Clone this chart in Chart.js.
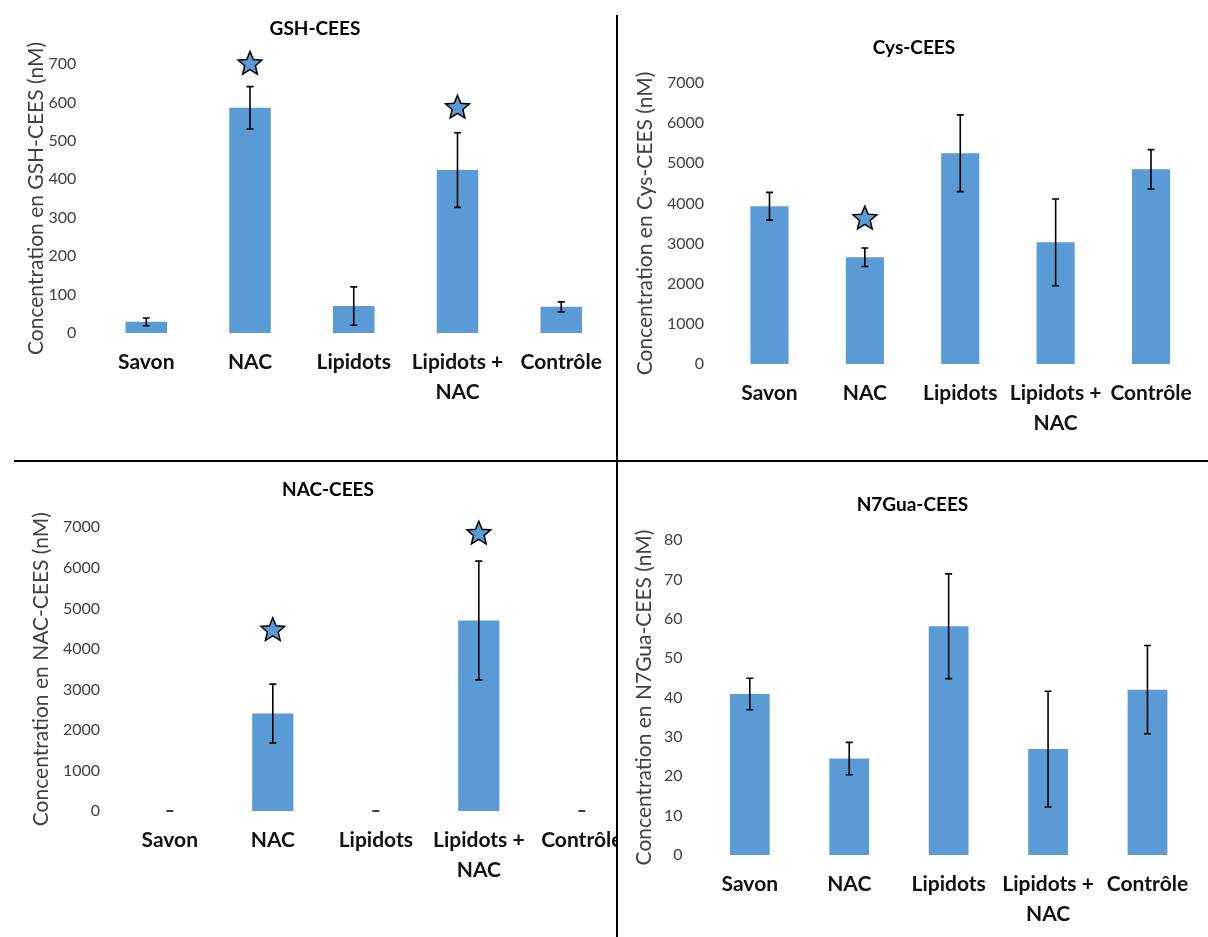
<!DOCTYPE html>
<html lang="fr">
<head>
<meta charset="UTF-8">
<title>Adduits CEES</title>
<script src="https://cdn.jsdelivr.net/npm/chart.js"></script>
<style>
  body { margin: 0; background: #fff; }
  #page { position: relative; width: 1208px; height: 937px; overflow: hidden; background: #fff; }
  .panel { position: absolute; overflow: hidden; }
  .panel canvas { position: absolute; left: 0; top: 0; }
  .line { position: absolute; background: #000; }
</style>
</head>
<body>
<div id="page">
  <div class="panel" style="left:0;top:0;width:617px;height:460px"><canvas id="c1" width="617" height="413"></canvas></div>
  <div class="panel" style="left:617px;top:0;width:591px;height:460px"><canvas id="c2" width="591" height="444"></canvas></div>
  <div class="panel" style="left:0;top:462px;width:617px;height:475px"><canvas id="c3" width="640" height="429"></canvas></div>
  <div class="panel" style="left:617px;top:462px;width:591px;height:475px"><canvas id="c4" width="591" height="473"></canvas></div>
  <div class="line" style="left:616px;top:15px;width:2px;height:446px"></div>
  <div class="line" style="left:616px;top:460px;width:2px;height:477px"></div>
  <div class="line" style="left:14px;top:460px;width:1194px;height:2px"></div>
</div>
<script>
const categories = ['Savon', 'NAC', 'Lipidots', ['Lipidots +', 'NAC'], 'Contrôle'];

// GSH-CEES (nM)
const gshValues = [29, 586, 70, 424, 68];
const gshErrors = [10, 55, 50, 97, 13];
const gshStars = [null, 700, null, 586, null];

// Cys-CEES (nM)
const cysValues = [3930, 2660, 5250, 3030, 4850];
const cysErrors = [345, 230, 955, 1080, 490];
const cysStars = [null, 3620, null, null, null];

// NAC-CEES (nM)
const nacValues = [0, 2405, 0, 4700, 0];
const nacErrors = [0, 725, 0, 1465, 0];
const nacStars = [null, 4460, null, 6840, null];

// N7Gua-CEES (nM)
const guaValues = [40.9, 24.5, 58.1, 26.9, 42.0];
const guaErrors = [4, 4.1, 13.3, 14.7, 11.2];
const guaStars = [null, null, null, null, null];

const BLUE = '#5B9BD5';
const FONT = 'Lato, Calibri, Carlito, sans-serif';

function drawStar(ctx, x, y, r) {
  ctx.beginPath();
  for (let k = 0; k < 10; k++) {
    const rad = k % 2 === 0 ? r : r * 0.45;
    const a = -Math.PI / 2 + k * Math.PI / 5;
    const px = x + rad * Math.cos(a), py = y + rad * Math.sin(a);
    if (k === 0) ctx.moveTo(px, py); else ctx.lineTo(px, py);
  }
  ctx.closePath();
  ctx.fillStyle = BLUE;
  ctx.fill();
  ctx.lineWidth = 1.5;
  ctx.strokeStyle = '#000';
  ctx.stroke();
}

// error bars + significance stars
const marksPlugin = {
  id: 'marks',
  afterDatasetsDraw(chart, args, opts) {
    const { ctx, scales: { x, y } } = chart;
    const vals = chart.data.datasets[0].data;
    ctx.save();
    ctx.strokeStyle = '#000';
    ctx.lineWidth = 1.6;
    vals.forEach((v, i) => {
      const e = opts.errors[i];
      const px = x.getPixelForValue(i);
      const top = y.getPixelForValue(v + e), bot = y.getPixelForValue(v - e);
      ctx.beginPath();
      ctx.moveTo(px, top); ctx.lineTo(px, bot);
      ctx.moveTo(px - 3.5, top); ctx.lineTo(px + 3.5, top);
      ctx.moveTo(px - 3.5, bot); ctx.lineTo(px + 3.5, bot);
      ctx.stroke();
    });
    opts.stars.forEach((s, i) => {
      if (s != null) drawStar(ctx, x.getPixelForValue(i), y.getPixelForValue(s), 12.5);
    });
    ctx.restore();
  }
};

function makePanel(canvasId, values, errors, stars, o) {
  return new Chart(document.getElementById(canvasId), {
    type: 'bar',
    data: {
      labels: categories,
      datasets: [{ data: values, backgroundColor: BLUE, barPercentage: 0.4, categoryPercentage: 1 }]
    },
    options: {
      responsive: false,
      animation: false,
      layout: { padding: { left: o.padL, right: o.padR, top: 0, bottom: 0 } },
      plugins: {
        legend: { display: false },
        tooltip: { enabled: false },
        title: {
          display: true, text: o.title, color: '#000',
          font: { family: FONT, size: 19, weight: 'bold' },
          padding: { top: o.titleTop, bottom: o.titleBottom }
        },
        marks: { errors: errors, stars: stars }
      },
      scales: {
        x: {
          grid: { display: false, drawTicks: false },
          border: { display: false },
          ticks: {
            color: '#111', padding: 15, maxRotation: 0, autoSkip: false,
            font: { family: FONT, size: 21, weight: 'bold', lineHeight: 1.4 }
          },
          afterFit: s => { s.height = 80; }
        },
        y: {
          min: 0, max: o.yMax,
          grid: { display: false, drawTicks: false },
          border: { display: false },
          ticks: {
            stepSize: o.yStep, color: '#404040', padding: o.tickPad,
            font: { family: FONT, size: 16 },
            callback: v => String(v)
          },
          title: {
            display: true, text: o.yTitle, color: '#404040',
            font: { family: FONT, size: 21 },
            padding: { top: o.yTitlePad, bottom: 0 }
          },
          afterFit: s => { s.width = o.yWidth; }
        }
      }
    },
    plugins: [marksPlugin]
  });
}

makePanel('c1', gshValues, gshErrors, gshStars, {
  title: 'GSH-CEES', yTitle: 'Concentration en GSH-CEES (nM)', yMax: 700, yStep: 100,
  padL: 14.4, padR: 1.4, yWidth: 80, tickPad: 18, yTitlePad: 9, titleTop: 17.6, titleBottom: 23.6
});
makePanel('c2', cysValues, cysErrors, cysStars, {
  title: 'Cys-CEES', yTitle: 'Concentration en Cys-CEES (nM)', yMax: 7000, yStep: 1000,
  padL: 12.3, padR: 9.3, yWidth: 92.5, tickPad: 17.8, yTitlePad: 3.1, titleTop: 36.6, titleBottom: 23.6
});
makePanel('c3', nacValues, nacErrors, nacStars, {
  title: 'NAC-CEES', yTitle: 'Concentration en NAC-CEES (nM)', yMax: 7000, yStep: 1000,
  padL: 22.7, padR: 6.7, yWidth: 95.6, tickPad: 18.3, yTitlePad: 6.4, titleTop: 16.6, titleBottom: 25.9
});
makePanel('c4', guaValues, guaErrors, guaStars, {
  title: 'N7Gua-CEES', yTitle: 'Concentration en N7Gua-CEES (nM)', yMax: 80, yStep: 10,
  padL: 10.8, padR: 10.8, yWidth: 72.3, tickPad: 17.6, yTitlePad: 4.3, titleTop: 31.6, titleBottom: 23.6
});
</script>
</body>
</html>
